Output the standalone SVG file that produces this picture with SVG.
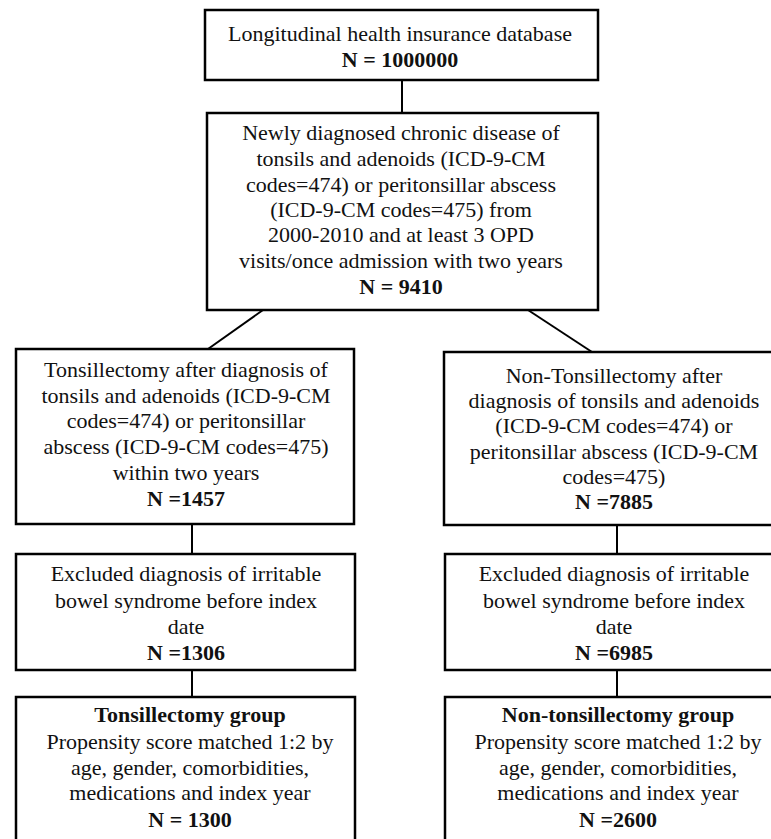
<svg xmlns="http://www.w3.org/2000/svg" width="771" height="839" viewBox="0 0 771 839">
<style>
.box{fill:#fff;stroke:#000;stroke-width:2.5}
.ln{stroke:#000;stroke-width:2;fill:none}
text{font-family:"Liberation Serif","Times New Roman",serif;font-size:22px;fill:#111;text-anchor:middle}
.b{font-weight:bold}
</style>
<rect width="771" height="839" fill="#fff"/>
<g id="connectors">
<line class="ln" x1="402" y1="80" x2="402" y2="113"/>
<line class="ln" x1="263" y1="310" x2="208" y2="349"/>
<line class="ln" x1="528" y1="310" x2="592" y2="352"/>
<line class="ln" x1="192" y1="524" x2="192" y2="554"/>
<line class="ln" x1="617" y1="525" x2="617" y2="554"/>
<line class="ln" x1="192" y1="670" x2="192" y2="697"/>
<line class="ln" x1="617" y1="670" x2="617" y2="697"/>
</g>
<g id="n1">
<rect class="box" x="205" y="10" width="393" height="70"/>
<text x="400" y="41">Longitudinal health insurance database</text>
<text class="b" x="400" y="67">N = 1000000</text>
</g>
<g id="n2">
<rect class="box" x="207" y="113" width="391" height="197"/>
<text x="401" y="140">Newly diagnosed chronic disease of</text>
<text x="401" y="166">tonsils and adenoids (ICD-9-CM</text>
<text x="401" y="192">codes=474) or peritonsillar abscess</text>
<text x="401" y="217">(ICD-9-CM codes=475) from</text>
<text x="401" y="242">2000-2010 and at least 3 OPD</text>
<text x="401" y="268">visits/once admission with two years</text>
<text class="b" x="401" y="294">N = 9410</text>
</g>
<g id="n3">
<rect class="box" x="16" y="349" width="338" height="175"/>
<text x="186" y="377">Tonsillectomy after diagnosis of</text>
<text x="186" y="403">tonsils and adenoids (ICD-9-CM</text>
<text x="186" y="428">codes=474) or peritonsillar</text>
<text x="186" y="454">abscess (ICD-9-CM codes=475)</text>
<text x="186" y="480">within two years</text>
<text class="b" x="186" y="506">N =1457</text>
</g>
<g id="n4">
<rect class="box" x="444" y="352" width="340" height="173"/>
<text x="614" y="383">Non-Tonsillectomy after</text>
<text x="614" y="408">diagnosis of tonsils and adenoids</text>
<text x="614" y="433">(ICD-9-CM codes=474) or</text>
<text x="614" y="459">peritonsillar abscess (ICD-9-CM</text>
<text x="614" y="484">codes=475)</text>
<text class="b" x="614" y="509">N =7885</text>
</g>
<g id="n5">
<rect class="box" x="16" y="554" width="339" height="116"/>
<text x="186" y="581">Excluded diagnosis of irritable</text>
<text x="186" y="608">bowel syndrome before index</text>
<text x="186" y="634">date</text>
<text class="b" x="186" y="660">N =1306</text>
</g>
<g id="n6">
<rect class="box" x="445" y="554" width="339" height="116"/>
<text x="614" y="581">Excluded diagnosis of irritable</text>
<text x="614" y="608">bowel syndrome before index</text>
<text x="614" y="634">date</text>
<text class="b" x="614" y="660">N =6985</text>
</g>
<g id="n7">
<rect class="box" x="16" y="697" width="339" height="160"/>
<text class="b" x="190" y="722">Tonsillectomy group</text>
<text x="190" y="749">Propensity score matched 1:2 by</text>
<text x="190" y="775">age, gender, comorbidities,</text>
<text x="190" y="800">medications and index year</text>
<text class="b" x="190" y="827">N = 1300</text>
</g>
<g id="n8">
<rect class="box" x="445" y="697" width="339" height="160"/>
<text class="b" x="618" y="722">Non-tonsillectomy group</text>
<text x="618" y="749">Propensity score matched 1:2 by</text>
<text x="618" y="775">age, gender, comorbidities,</text>
<text x="618" y="800">medications and index year</text>
<text class="b" x="618" y="827">N =2600</text>
</g>
</svg>
